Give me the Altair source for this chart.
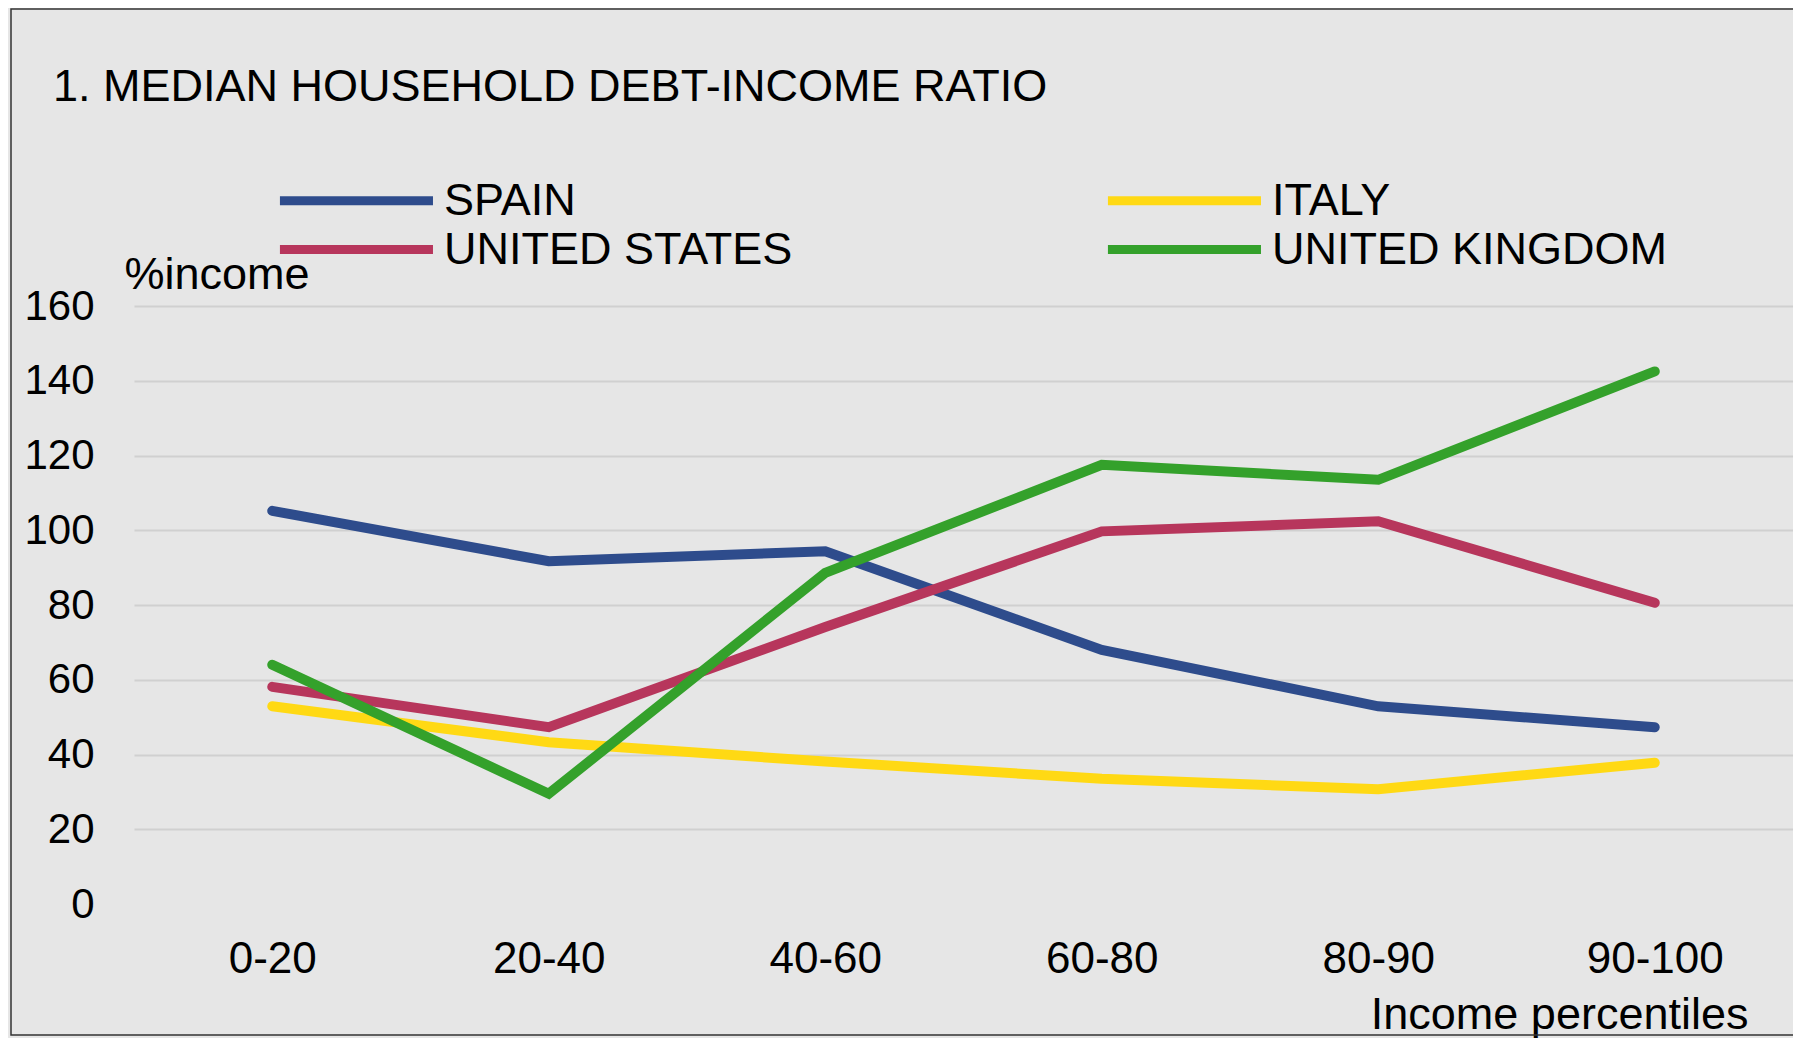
import altair as alt
import pandas as pd

# ---- data ----
percentiles = ["0-20", "20-40", "40-60", "60-80", "80-90", "90-100"]
countries = ["SPAIN", "ITALY", "UNITED STATES", "UNITED KINGDOM"]
spain = [105.2, 91.7, 94.4, 68.0, 52.9, 47.3]
italy = [52.9, 43.3, 38.1, 33.5, 30.7, 37.8]
united_states = [58.1, 47.3, 74.1, 99.7, 102.4, 80.6]
united_kingdom = [64.0, 29.5, 88.6, 117.5, 113.5, 142.5]
colors = ["#2E4C8C", "#FFD914", "#B7365C", "#34A12B"]
y_ticks = [0, 20, 40, 60, 80, 100, 120, 140, 160]

series = [spain, italy, united_states, united_kingdom]
rows = []
for c, vals in zip(countries, series):
    for p, v in zip(percentiles, vals):
        rows.append({"country": c, "percentile": p, "value": v})
df = pd.DataFrame(rows)

FONT = "Liberation Sans"
W, H = 1659, 598

lines = alt.Chart(df).mark_line(strokeWidth=10, strokeCap="round", strokeJoin="miter").encode(
    x=alt.X(
        "percentile:N",
        sort=percentiles,
        scale=alt.Scale(type="point", padding=0.5),
        axis=alt.Axis(
            title="Income percentiles",
            labelAngle=0,
            labelFont=FONT,
            labelFontSize=44,
            labelColor="black",
            labelPadding=33,
            ticks=False,
            tickSize=0,
            domain=False,
            grid=False,
            titleFont=FONT,
            titleFontSize=45,
            titleFontWeight="normal",
            titleColor="black",
            titleAlign="right",
            titleBaseline="alphabetic",
            titleX=1614,
            titleY=124,
        ),
    ),
    y=alt.Y(
        "value:Q",
        scale=alt.Scale(domain=[0, 160], nice=False, zero=True),
        axis=alt.Axis(
            values=y_ticks,
            title="%income",
            labelFont=FONT,
            labelFontSize=42,
            labelColor="black",
            labelPadding=40,
            labelAlign="right",
            labelBaseline="middle",
            ticks=False,
            tickSize=0,
            domain=False,
            grid=True,
            gridColor="#D0D0D0",
            gridWidth=2,
            gridOpacity={"condition": {"test": "datum.value == 0", "value": 0}, "value": 1},
            titleFont=FONT,
            titleFontSize=45,
            titleFontWeight="normal",
            titleColor="black",
            titleAngle=0,
            titleAlign="left",
            titleBaseline="alphabetic",
            titleX=-10,
            titleY=-18,
        ),
    ),
    color=alt.Color(
        "country:N",
        sort=countries,
        scale=alt.Scale(domain=countries, range=colors),
        legend=alt.Legend(
            title=None,
            orient="none",
            legendX=133,
            legendY=-128,
            columns=2,
            direction="horizontal",
            symbolType="M-1,0H15",
            symbolSize=366,
            symbolStrokeWidth=9,
            labelOffset=132,
            labelLimit=0,
            labelFont=FONT,
            labelFontSize=45,
            labelColor="black",
            rowPadding=3,
            columnPadding=296,
            padding=0,
        ),
    ),
)

border = alt.Chart(pd.DataFrame({"b": [0]})).mark_rect(
    fill="transparent", stroke="#333333", strokeWidth=1.5
).encode(
    x=alt.value(-123), x2=alt.value(W + 1), y=alt.value(-297), y2=alt.value(H + 131)
)

chart = alt.layer(border, lines).properties(
    width=W,
    height=H,
    background="#E6E6E6",
    padding={"left": 126, "top": 298, "right": 0, "bottom": 134},
    autosize=alt.AutoSizeParams(type="none"),
    title=alt.TitleParams(
        text="1. MEDIAN HOUSEHOLD DEBT-INCOME RATIO",
        anchor="start",
        frame="group",
        font=FONT,
        fontSize=45,
        fontWeight="normal",
        color="black",
        baseline="alphabetic",
        dx=-81,
        dy=142,
    ),
).configure_view(stroke="transparent")

chart.save("out.html", embed_options={"renderer": "svg", "actions": False})
